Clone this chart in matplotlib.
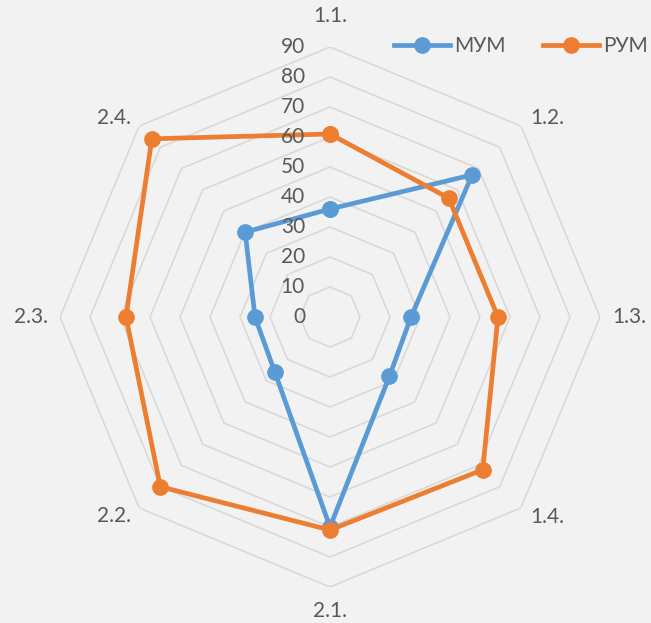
import numpy as np
import matplotlib
matplotlib.use('Agg')
import matplotlib.pyplot as plt

# Категории и значения
categories = ['1.1.', '1.2.', '1.3.', '1.4.', '2.1.', '2.2.', '2.3.', '2.4.']
mum = [36, 67, 27, 28, 70, 26, 25, 40]
rum = [61, 56, 56, 72, 71, 80, 68, 84]
rings = [10, 20, 30, 40, 50, 60, 70, 80, 90]
tick_values = [0, 10, 20, 30, 40, 50, 60, 70, 80, 90]

plt.rcParams['font.family'] = ['Lato', 'DejaVu Sans']
text_color = '#595959'
bg = '#f2f2f2'

fig = plt.figure(figsize=(6.51, 6.23), dpi=100, facecolor=bg)
ax = fig.add_axes([60 / 651, 36 / 623, 540 / 651, 540 / 623], projection='polar')
ax.set_facecolor(bg)
ax.set_theta_zero_location('N')
ax.set_theta_direction(-1)

angles = np.linspace(0, 2 * np.pi, len(categories), endpoint=False)
closed = np.append(angles, angles[0])

# Сетка в виде восьмиугольников
for r in rings:
    ax.plot(closed, [r] * len(closed), color='#d9d9d9', lw=1.2, zorder=1)

# Ряды данных
ax.plot(closed, mum + mum[:1], color='#5b9bd5', lw=3.4, marker='o', ms=11,
        label='МУМ', zorder=3, solid_joinstyle='round')
ax.plot(closed, rum + rum[:1], color='#ed7d31', lw=3.4, marker='o', ms=11,
        label='РУМ', zorder=3, solid_joinstyle='round')

ax.set_ylim(0, 90)
ax.grid(False)
ax.set_xticks([])
ax.set_yticks([])
ax.spines['polar'].set_visible(False)

# Подписи шкалы
for v in tick_values:
    ax.annotate(str(v), (0, v), xytext=(-25, 0), textcoords='offset pixels',
                ha='right', va='center', fontsize=15, color=text_color)

# Подписи категорий
offsets = [(0, 31), (26, 8), (29, 0), (26, -9), (0, -24), (-25, -8), (-29, 0), (-25, 8)]
for a, name, off in zip(angles, categories, offsets):
    ax.annotate(name, (a, 90), xytext=off, textcoords='offset pixels',
                ha='center', va='center', fontsize=15, color=text_color)

fig.legend(loc='center', bbox_to_anchor=(0.80, 0.926), ncol=2, frameon=False,
           fontsize=15, labelcolor=text_color, handlelength=2.7,
           handletextpad=0.2, columnspacing=1.8)

fig.savefig('out.png', dpi=100, facecolor=bg)
